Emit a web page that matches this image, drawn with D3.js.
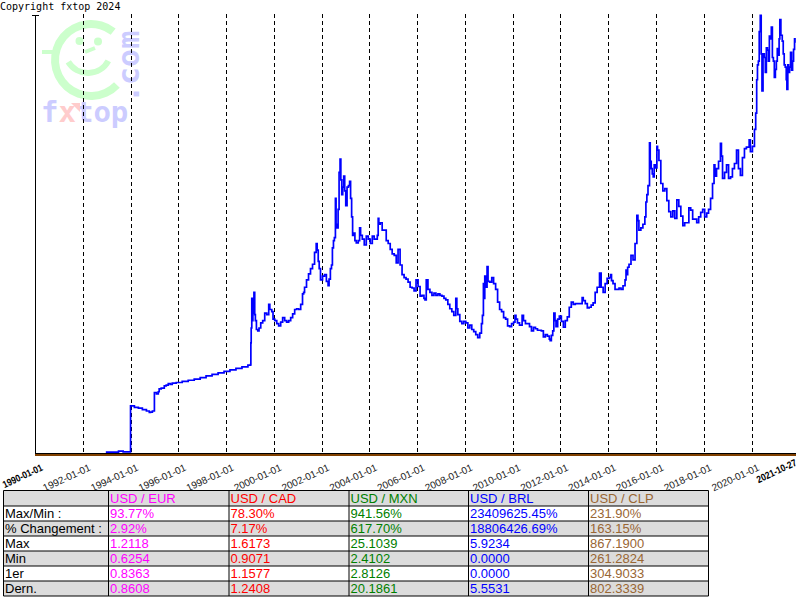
<!DOCTYPE html>
<html><head><meta charset="utf-8">
<script src="https://cdn.jsdelivr.net/npm/d3@7"></script>
<style>body{margin:0;background:#fff}svg{display:block}</style>
</head><body><svg id="c" width="800" height="600"></svg>
<script>
const dates = ["1990-01-01","1992-12-20","1993-01-01","1993-06-15","1993-07-01","1993-09-01","1993-09-10","1993-12-31",
"1994-01-01","1994-03-01","1994-05-01","1994-07-01","1994-09-01","1994-10-15","1994-11-01","1994-12-01","1994-12-31",
"1995-01-01","1995-02-01","1995-03-01","1995-03-15","1995-04-15","1995-06-01","1995-07-01","1995-08-01","1995-09-01","1995-10-01","1995-12-01",
"1996-03-01","1996-06-01","1996-09-01","1996-12-01","1997-03-01","1997-06-01","1997-09-01","1997-12-01","1998-03-01","1998-06-01","1998-09-01","1998-12-01",
"1999-01-12","1999-01-15","1999-01-20","1999-01-29","1999-02-05","1999-02-15","1999-03-03","1999-03-15","1999-03-25","1999-04-10","1999-05-01","1999-05-20","1999-06-15","1999-07-15","1999-08-15","1999-09-15","1999-10-15","1999-11-01","1999-12-01","1999-12-20",
"2000-01-15","2000-02-15","2000-03-15","2000-04-15","2000-05-15","2000-06-15","2000-07-15","2000-08-15","2000-09-15","2000-10-15","2000-11-15","2000-12-15",
"2001-01-15","2001-02-15","2001-03-15","2001-04-01","2001-04-15","2001-05-15","2001-06-15","2001-07-15","2001-08-15","2001-09-15","2001-10-10","2001-10-25","2001-11-10","2001-11-25","2001-12-15",
"2002-01-15","2002-02-15","2002-03-15","2002-04-10","2002-04-25","2002-05-15","2002-06-01","2002-06-15","2002-07-01","2002-07-15","2002-07-31","2002-08-10","2002-08-25","2002-09-10","2002-09-25","2002-10-10","2002-10-22","2002-11-05","2002-11-20","2002-12-05","2002-12-20",
"2003-01-05","2003-01-25","2003-02-15","2003-03-05","2003-03-20","2003-04-05","2003-04-20","2003-05-10","2003-05-25","2003-06-15","2003-07-15","2003-08-05","2003-08-20","2003-09-15","2003-10-15","2003-11-15","2003-12-15",
"2004-01-15","2004-02-15","2004-03-15","2004-04-15","2004-05-01","2004-05-15","2004-05-25","2004-06-15","2004-07-15","2004-08-15","2004-09-15","2004-10-15","2004-11-15","2004-12-15",
"2005-01-15","2005-02-15","2005-03-15","2005-04-15","2005-05-15","2005-06-15","2005-07-15","2005-08-15","2005-09-15","2005-10-15","2005-11-15","2005-12-15",
"2006-01-15","2006-02-15","2006-03-15","2006-04-15","2006-05-01","2006-05-20","2006-06-15","2006-07-15","2006-08-15","2006-09-15","2006-10-15","2006-11-15","2006-12-15",
"2007-01-15","2007-02-15","2007-03-15","2007-04-15","2007-05-15","2007-06-15","2007-07-15","2007-08-15","2007-08-31","2007-09-15","2007-10-15","2007-11-15","2007-12-15",
"2008-01-15","2008-02-15","2008-03-15","2008-04-15","2008-05-15","2008-06-15","2008-07-15","2008-08-15","2008-09-10","2008-09-25","2008-10-10","2008-10-20","2008-10-31","2008-11-15","2008-12-05","2008-12-20",
"2009-01-15","2009-02-15","2009-03-15","2009-04-15","2009-05-15","2009-06-15","2009-07-15","2009-08-15","2009-09-15","2009-10-15","2009-11-15","2009-12-15",
"2010-01-15","2010-02-05","2010-02-20","2010-03-15","2010-04-15","2010-05-25","2010-06-15","2010-07-15","2010-08-15","2010-09-15","2010-10-15","2010-11-15","2010-12-15",
"2011-01-15","2011-02-15","2011-03-15","2011-04-15","2011-05-15","2011-06-15","2011-07-15","2011-07-28","2011-08-15","2011-09-05","2011-09-22","2011-10-10","2011-10-25","2011-11-20","2011-12-15",
"2012-01-15","2012-02-15","2012-03-15","2012-04-15","2012-05-15","2012-06-15","2012-07-15","2012-08-15","2012-09-15","2012-10-15","2012-11-28","2012-12-15",
"2013-01-15","2013-02-15","2013-03-15","2013-04-15","2013-05-15","2013-06-15","2013-07-15","2013-08-21","2013-09-15","2013-10-15","2013-11-15","2013-12-15",
"2014-01-15","2014-02-05","2014-02-20","2014-03-15","2014-04-15","2014-05-15","2014-06-15","2014-07-15","2014-08-15","2014-09-15","2014-09-30","2014-10-15","2014-10-25","2014-11-15","2014-12-15",
"2015-01-15","2015-02-15","2015-03-15","2015-03-31","2015-04-15","2015-05-15","2015-06-15","2015-07-15","2015-07-31","2015-08-15","2015-09-01","2015-09-24","2015-10-05","2015-10-20","2015-11-05","2015-11-20","2015-12-05","2015-12-20",
"2016-01-15","2016-01-25","2016-02-15","2016-03-15","2016-04-15","2016-05-15","2016-06-15","2016-07-15","2016-08-15","2016-09-15","2016-10-15","2016-11-15","2016-12-15",
"2017-01-15","2017-02-15","2017-03-15","2017-04-15","2017-05-18","2017-06-15","2017-07-15","2017-08-15","2017-09-15","2017-10-15","2017-11-15","2017-12-15",
"2018-01-15","2018-02-15","2018-03-15","2018-04-15","2018-05-15","2018-06-07","2018-06-20","2018-07-15","2018-08-15","2018-09-13","2018-09-28","2018-10-15","2018-11-15","2018-12-15",
"2019-01-15","2019-02-15","2019-03-15","2019-04-15","2019-05-17","2019-06-15","2019-07-15","2019-08-15","2019-09-15","2019-10-15","2019-11-26","2019-12-15",
"2020-01-15","2020-02-15","2020-03-05","2020-03-20","2020-04-01","2020-04-15","2020-04-28","2020-05-14","2020-05-28","2020-06-09","2020-06-25","2020-07-15","2020-07-30","2020-08-15","2020-08-31","2020-09-15","2020-09-30","2020-10-15","2020-10-30","2020-11-15","2020-11-30","2020-12-15","2020-12-31",
"2021-01-15","2021-01-29","2021-02-15","2021-02-26","2021-03-09","2021-03-25","2021-04-15","2021-04-30","2021-05-15","2021-05-31","2021-06-15","2021-06-25","2021-07-09","2021-07-20","2021-08-05","2021-08-20","2021-09-05","2021-09-20","2021-10-05","2021-10-20","2021-10-27"];
const brl = [0,0,0.025,0.025,0.04,0.04,0.028,0.032,
0.65,0.63,0.62,0.60,0.58,0.56,0.565,0.58,0.585,
0.83,0.81,0.84,0.88,0.89,0.92,0.93,0.95,0.94,0.955,0.965,
0.98,0.995,1.01,1.03,1.055,1.075,1.095,1.115,1.135,1.155,1.175,1.20,
1.21,1.50,1.70,2.10,1.80,1.90,2.18,1.88,1.80,1.68,1.66,1.70,1.77,1.80,1.90,1.88,2.02,1.95,1.92,1.82,
1.80,1.76,1.73,1.78,1.84,1.80,1.78,1.80,1.84,1.89,1.95,1.96,
1.95,2.02,2.16,2.18,2.25,2.35,2.43,2.50,2.56,2.72,2.84,2.75,2.60,2.50,2.35,
2.40,2.42,2.33,2.27,2.36,2.50,2.55,2.78,2.88,2.92,3.45,3.10,3.05,3.30,3.80,3.98,3.70,3.50,3.60,3.75,3.55,
3.35,3.60,3.62,3.68,3.45,3.20,2.95,2.98,2.88,2.85,2.88,3.05,2.95,2.90,2.82,2.94,2.90,
2.84,2.94,2.90,2.90,2.95,3.18,3.10,3.12,3.02,3.02,2.88,2.84,2.76,2.70,
2.68,2.58,2.76,2.55,2.42,2.38,2.36,2.32,2.25,2.24,2.20,2.35,
2.26,2.13,2.14,2.10,2.08,2.35,2.22,2.18,2.14,2.17,2.14,2.16,2.14,
2.13,2.10,2.08,2.02,1.96,1.92,1.87,2.10,1.96,1.88,1.79,1.76,1.79,
1.77,1.70,1.74,1.68,1.65,1.61,1.57,1.63,1.76,1.87,2.30,2.10,2.40,2.25,2.53,2.33,
2.32,2.38,2.30,2.22,2.05,1.95,1.92,1.84,1.82,1.73,1.72,1.76,
1.78,1.87,1.82,1.77,1.74,1.87,1.80,1.76,1.76,1.72,1.66,1.71,1.69,
1.67,1.67,1.66,1.58,1.61,1.59,1.55,1.53,1.60,1.66,1.90,1.80,1.72,1.82,1.86,
1.79,1.71,1.80,1.85,1.98,2.05,2.02,2.03,2.03,2.03,2.11,2.07,
2.03,1.97,1.98,2.01,2.04,2.18,2.25,2.44,2.25,2.18,2.30,2.37,
2.38,2.42,2.34,2.30,2.22,2.22,2.24,2.22,2.27,2.35,2.48,2.42,2.52,2.56,2.68,
2.62,2.84,3.22,3.15,3.02,3.05,3.10,3.20,3.40,3.50,3.62,4.20,3.95,3.85,3.78,3.74,3.90,3.86,
4.15,4.10,3.96,3.65,3.55,3.58,3.42,3.27,3.20,3.28,3.18,3.43,3.34,
3.21,3.08,3.12,3.12,3.32,3.29,3.17,3.17,3.12,3.20,3.26,3.30,
3.20,3.25,3.30,3.45,3.65,3.90,3.75,3.85,3.95,4.19,4.02,3.72,3.80,3.90,
3.72,3.74,3.85,3.92,4.10,3.85,3.76,4.00,4.12,4.14,4.24,4.08,
4.15,4.38,4.60,5.05,5.25,5.30,5.70,5.92,5.40,4.90,5.40,5.35,5.15,5.48,5.45,5.30,5.64,5.60,5.76,5.35,5.30,5.08,5.19,
5.30,5.47,5.38,5.60,5.86,5.65,5.57,5.40,5.25,5.22,5.05,4.92,5.25,5.15,5.22,5.42,5.18,5.30,5.46,5.60,5.55];

const startDate = "1990-01-01", endDate = "2021-10-27";
const yMax = 5.9234;
const gridDates = ["1992-01-01","1994-01-01","1996-01-01","1998-01-01","2000-01-01","2002-01-01","2004-01-01","2006-01-01","2008-01-01","2010-01-01","2012-01-01","2014-01-01","2016-01-01","2018-01-01","2020-01-01"];

const pairs = ["USD / EUR","USD / CAD","USD / MXN","USD / BRL","USD / CLP"];
const pairColors = ["#ff00ff","#ff0000","#008000","#0000ff","#996633"];
const rowLabels = ["Max/Min :","% Changement :","Max","Min","1er","Dern."];
const colEUR = ["93.77%","2.92%","1.2118","0.6254","0.8363","0.8608"];
const colCAD = ["78.30%","7.17%","1.6173","0.9071","1.1577","1.2408"];
const colMXN = ["941.56%","617.70%","25.1039","2.4102","2.8126","20.1861"];
const colBRL = ["23409625.45%","18806426.69%","5.9234","0.0000","0.0000","5.5531"];
const colCLP = ["231.90%","163.15%","867.1900","261.2824","304.9033","802.3339"];

const parse = d3.timeParse("%Y-%m-%d");
const fmt = d3.timeFormat("%Y-%m-%d");
const svg = d3.select("#c");

// watermark logo
const logo = svg.append("g");
logo.append("path").attr("transform","translate(91,60)")
  .attr("d", d3.arc().innerRadius(32).outerRadius(40).startAngle(134*Math.PI/180).endAngle(398*Math.PI/180)())
  .attr("fill","#ccffcc");
logo.append("rect").attr("x",42).attr("y",50).attr("width",13).attr("height",4).attr("fill","#ccffcc");
logo.append("circle").attr("cx",79.5).attr("cy",41).attr("r",4).attr("fill","#ccffcc");
logo.append("circle").attr("cx",98).attr("cy",41.5).attr("r",4).attr("fill","#ccffcc");
logo.append("path").attr("d","M85,52 L95,48").attr("stroke","#ccffcc").attr("stroke-width",4);
logo.append("path").attr("transform","translate(88,50)")
  .attr("d", d3.arc().innerRadius(20).outerRadius(26).startAngle(118*Math.PI/180).endAngle(239*Math.PI/180)())
  .attr("fill","#ccffcc");
logo.append("text").attr("transform","translate(139,103) rotate(-90)")
  .attr("font-family","DejaVu Sans Mono").attr("font-weight","bold").attr("font-size",30)
  .attr("fill","#ccccff").text(".com");
const ft = logo.append("text").attr("x",41).attr("y",122)
  .attr("font-family","DejaVu Sans Mono").attr("font-weight","bold").attr("font-size",29).attr("fill","#ccccff");
ft.append("tspan").text("f");
ft.append("tspan").attr("fill","#ffcccc").text("x");
ft.append("tspan").text("top");
logo.append("polygon").attr("points","71,103 80,103 80,112").attr("fill","#ffcccc");

svg.append("text").attr("x",0).attr("y",10).attr("font-family","DejaVu Sans Mono")
  .attr("font-size",10).attr("fill","#000").text("Copyright fxtop 2024");

const x = d3.scaleTime().domain([parse(startDate), parse(endDate)]).range([35, 795]);
const y = d3.scaleLinear().domain([0, yMax]).range([454, 15]);

// grid
svg.append("g").selectAll("line").data(gridDates).join("line")
  .attr("x1", d => Math.round(x(parse(d))) + 0.5).attr("x2", d => Math.round(x(parse(d))) + 0.5)
  .attr("y1", 14).attr("y2", 453)
  .attr("stroke","#000").attr("stroke-width",1).attr("stroke-dasharray","4,3");

// line
const data = dates.map((d,i) => ({d: parse(d), v: brl[i]}));
svg.append("path").datum(data)
  .attr("d", d3.line().x(p => x(p.d)).y(p => y(p.v)).curve(d3.curveStepAfter))
  .attr("fill","none").attr("stroke","#0000ff").attr("stroke-width",1.7).attr("stroke-linejoin","miter");

// axes
svg.append("line").attr("x1",35.5).attr("x2",35.5).attr("y1",15).attr("y2",454).attr("stroke","#000");
svg.append("line").attr("x1",32).attr("x2",39).attr("y1",15.5).attr("y2",15.5).attr("stroke","#000");
svg.append("line").attr("x1",35).attr("x2",796).attr("y1",453.5).attr("y2",453.5).attr("stroke","#000");
svg.append("line").attr("x1",35).attr("x2",796).attr("y1",455).attr("y2",455).attr("stroke","#804000").attr("stroke-width",2);

const tickDates = [startDate].concat(gridDates, [endDate]).map(parse);
const last = tickDates.length - 1;
const ax = svg.append("g").attr("transform","translate(0,458)")
  .call(d3.axisBottom(x).tickValues(tickDates).tickFormat(fmt).tickSize(0));
ax.select(".domain").remove();
ax.selectAll("text")
  .attr("font-family","Liberation Sans, Arial, sans-serif").attr("font-size",10)
  .attr("text-anchor","end")
  .attr("dy",0).attr("y",0)
  .attr("transform",(d,i) => i === last ? "translate(2,7) rotate(-25)" : "translate(8,12) rotate(-25)")
  .attr("font-weight",(d,i) => (i===0 || i===last) ? "bold" : "normal")
  .attr("fill",(d,i) => (i===0 || i===last) ? "#000" : "#222")
  .each(function(d,i){ if (i===0 || i===last) d3.select(this).attr("textLength",43).attr("lengthAdjust","spacingAndGlyphs"); });

// table
const colX = [3.5,108.5,229,349,468.5,588.5,708.5];
const rowY = [490.5,506,521,536,551,566,581,596];
const cols = [colEUR, colCAD, colMXN, colBRL, colCLP];
const tbl = svg.append("g").attr("font-family","Liberation Sans, Arial, sans-serif").attr("font-size",13);
for (let r = 0; r < 7; r++) {
  tbl.append("rect").attr("x",colX[0]).attr("y",rowY[r]).attr("width",colX[6]-colX[0]).attr("height",rowY[r+1]-rowY[r])
    .attr("fill", r % 2 === 0 ? "#dcdcdc" : "#ffffff");
}
rowY.forEach(yy => tbl.append("line").attr("x1",colX[0]).attr("x2",colX[6]).attr("y1",yy).attr("y2",yy).attr("stroke","#000"));
colX.forEach(xx => tbl.append("line").attr("x1",xx).attr("x2",xx).attr("y1",rowY[0]).attr("y2",rowY[7]).attr("stroke","#000"));
pairs.forEach((p,i) => tbl.append("text").attr("x",colX[i+1]+1.5).attr("y",rowY[1]-3).attr("fill",pairColors[i]).text(p));
rowLabels.forEach((l,r) => tbl.append("text").attr("x",colX[0]+1.5).attr("y",rowY[r+2]-3).attr("fill","#000").text(l));
cols.forEach((c,i) => c.forEach((v,r) => tbl.append("text").attr("x",colX[i+1]+1.5).attr("y",rowY[r+2]-3).attr("fill",pairColors[i]).text(v)));
</script></body></html>
